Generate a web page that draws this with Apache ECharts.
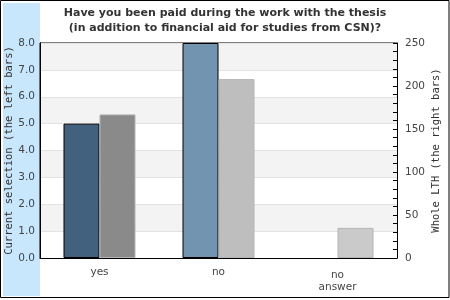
<!DOCTYPE html>
<html><head><meta charset="utf-8">
<script src="https://cdn.jsdelivr.net/npm/echarts@6/dist/echarts.min.js"></script>
<style>html,body{margin:0;padding:0;background:#fff}#c{width:450px;height:300px}</style>
</head><body><div id="c"></div>
<script>
const categories = ['yes', 'no', 'no\nanswer'];
const currentValues = [5.0, 8.0, null];
const wholeValues = [167, 208, 35];
const currentColors = ['#41617e', '#7394b0', '#9fb8cc'];
const wholeColors = ['#8a8a8a', '#bebebe', '#cacaca'];
const leftTicks = { min: 0, max: 8, interval: 1 };
const rightTicks = { min: 0, max: 250, interval: 50 };

const chart = echarts.init(document.getElementById('c'), null, { renderer: 'canvas' });
const font = 'DejaVu Sans';
chart.setOption({
  animation: false,
  backgroundColor: '#fff',
  graphic: [
    { type: 'rect', shape: { x: 3, y: 3, width: 37, height: 293 }, style: { fill: '#c8e7fd' }, z: -1 },
    { type: 'rect', shape: { x: 0.5, y: 0.5, width: 448.5, height: 297 }, style: { fill: null, stroke: '#000', lineWidth: 1 }, z: 10 }
  ],
  title: {
    text: 'Have you been paid during the work with the thesis\n(in addition to financial aid for studies from CSN)?',
    left: 'center', top: 1,
    textStyle: { fontFamily: font, fontSize: 11, fontWeight: 'bold', color: '#333', lineHeight: 15 }
  },
  grid: { left: 40, right: 53, top: 43, bottom: 42, outerBoundsMode: 'none', containLabel: false,
    show: true, borderColor: '#000', borderWidth: 1, backgroundColor: 'transparent' },
  xAxis: {
    type: 'category', data: categories,
    axisLine: { lineStyle: { color: '#000' } },
    axisTick: { show: false },
    axisLabel: { fontFamily: font, fontSize: 10.5, color: '#444', margin: 8, lineHeight: 12,
      formatter: v => v.indexOf('\n') >= 0 ? '{b|' + v + '}' : v,
      rich: { b: { fontFamily: font, fontSize: 10.5, color: '#444', lineHeight: 12, padding: [6, 0, 0, 0] } } }
  },
  yAxis: [
    {
      type: 'value', min: leftTicks.min, max: leftTicks.max, interval: leftTicks.interval,
      name: 'Current selection (the left bars)', nameLocation: 'middle', nameGap: 25, nameMoveOverlap: false,
      nameTextStyle: { fontFamily: 'DejaVu Sans Mono', fontSize: 10.5, color: '#333' },
      axisLine: { show: true, lineStyle: { color: '#000' } },
      axisTick: { show: false },
      axisLabel: { fontFamily: font, fontSize: 10.5, color: '#444', margin: 5, formatter: v => v.toFixed(1) },
      splitLine: { show: true, lineStyle: { color: '#e2e2e2' } },
      splitArea: { show: true, areaStyle: { color: ['#ffffff', '#f3f3f3'] } }
    },
    {
      type: 'value', min: rightTicks.min, max: rightTicks.max, interval: rightTicks.interval,
      name: 'Whole LTH (the right bars)', nameLocation: 'middle', nameGap: 34, nameRotate: 90, nameMoveOverlap: false,
      nameTextStyle: { fontFamily: 'DejaVu Sans Mono', fontSize: 10.5, color: '#333' },
      axisLine: { show: true, lineStyle: { color: '#000' } },
      axisTick: { show: true, inside: true, length: 4, lineStyle: { color: '#000' } },
      minorTick: { show: true, splitNumber: 5, length: 4, lineStyle: { color: '#000' } },
      axisLabel: { fontFamily: font, fontSize: 10.5, color: '#444', margin: 8 },
      splitLine: { show: false }
    }
  ],
  series: [
    {
      type: 'bar', yAxisIndex: 0, barWidth: 36, barGap: '0%',
      data: currentValues.map((v, i) => ({ value: v, itemStyle: { color: currentColors[i] } })),
      itemStyle: { borderColor: '#000', borderWidth: 1 }
    },
    {
      type: 'bar', yAxisIndex: 1, barWidth: 36, barGap: '0%',
      data: wholeValues.map((v, i) => ({ value: v, itemStyle: { color: wholeColors[i] } })),
      itemStyle: { borderColor: '#b4b4b4', borderWidth: 1 }
    }
  ]
});
</script></body></html>
